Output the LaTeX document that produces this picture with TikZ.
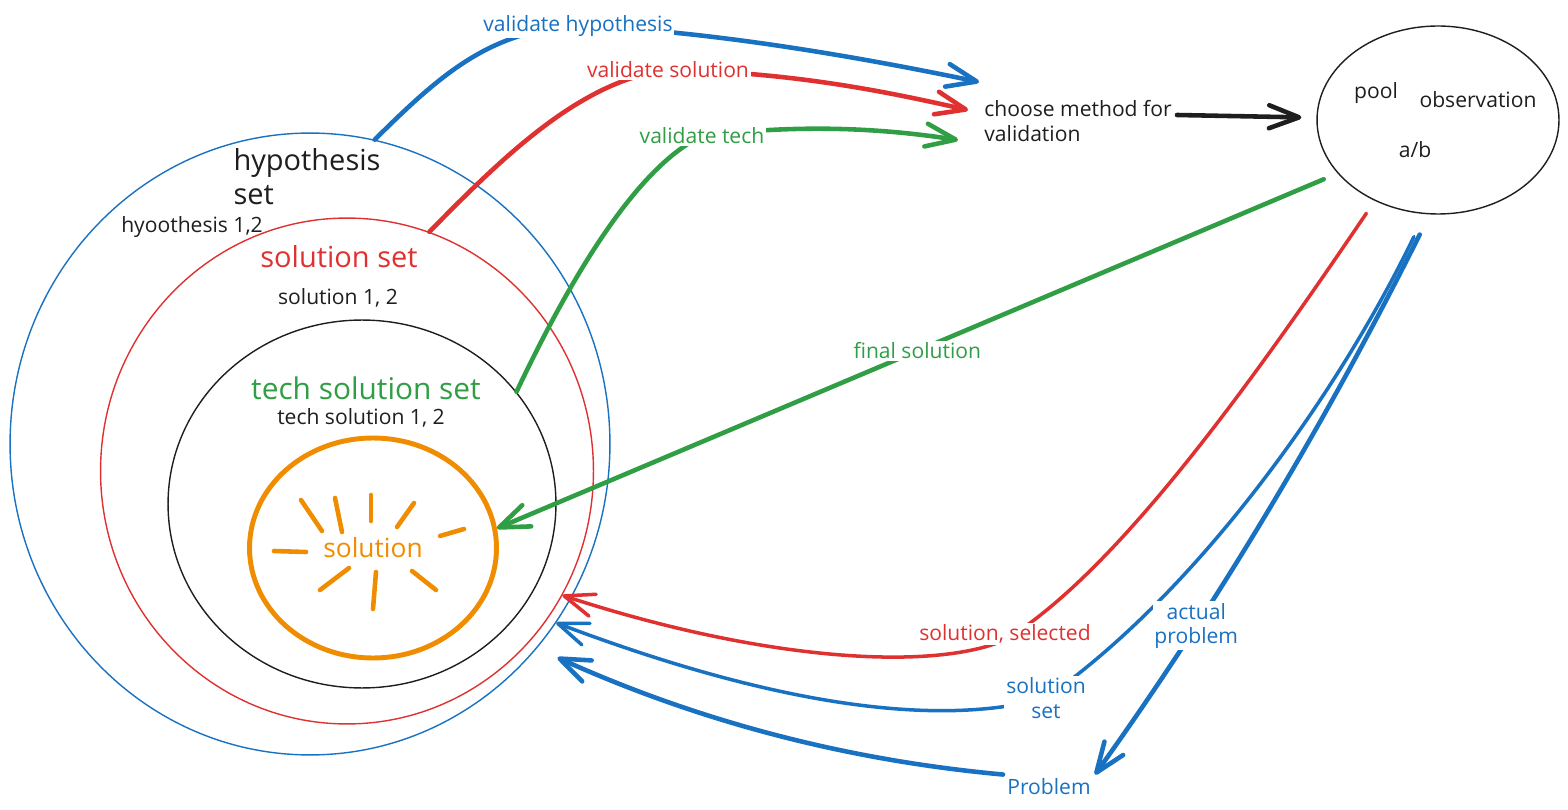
\documentclass[tikz,border=0pt]{standalone}
\usepackage{fontspec}
\setmainfont{Open Sans}
\usetikzlibrary{shapes.geometric, arrows.meta, positioning}
\definecolor{myblue}{HTML}{1971C2}
\definecolor{myred}{HTML}{E03131}
\definecolor{mygreen}{HTML}{2F9E44}
\definecolor{myorange}{HTML}{F08C00}
\definecolor{myblack}{HTML}{1E1E1E}
\tikzset{
	setnode/.style={
			shape=ellipse,
			draw=myblack,
			line width=0.8pt,
			inner sep=0pt
		},
	bestnode/.style={
			setnode,
			draw=myorange,
			line width=2.8pt,
			text=myorange,
			font=\fontsize{15}{18}\selectfont
		},
	handtext/.style={
			font=\fontsize{12}{14}\selectfont,
			text=myblack,
			inner sep=1pt,
			align=left
		},
	bigtext/.style={
			handtext,
			font=\fontsize{16.5}{19.5}\selectfont
		},
	linetext/.style={
			handtext,
			fill=white,
			align=center
		},
	handarrow/.style={
			line width=2.6pt,
			line cap=round,
			-{Straight Barb[length=6mm, width=4.6mm, round]}
		},
	thinarrow/.style={
			handarrow,
			line width=2pt
		},
	rayline/.style={
			draw=myorange,
			line width=2.6pt,
			line cap=round
		}
}

\begin{document}
\begin{tikzpicture}[x=0.02cm, y=-0.02cm]
	\useasboundingbox (0,0) rectangle (1568,810);

	% nested sets
	\node[setnode, draw=myblue, minimum width=12.0cm, minimum height=12.44cm] (hyp) at (310,444) {};
	\node[setnode, draw=myred, minimum width=9.86cm, minimum height=10.12cm] (sol) at (347,471) {};
	\node[setnode, minimum width=7.76cm, minimum height=7.36cm] (tech) at (362,504) {};
	\node[bestnode, minimum width=4.94cm, minimum height=4.4cm] (best) at (373,548) {solution};

	\foreach \xa/\ya/\xb/\yb in {301/500/322/531, 335/498/342/532, 371/495/371/521,
			414/503/397/527, 440/536/464/529, 274/551/306/552,
			349/568/320/590, 376/572/373/609, 412/571/436/590}
		\draw[rayline] (\xa,\ya) -- (\xb,\yb);

	\node[bigtext] (hyplabel) at (307,177) {hypothesis\\set};
	\node[handtext] (hypitems) at (192,227) {hyoothesis 1,2};
	\node[bigtext, text=myred] (sollabel) at (339,257) {solution set};
	\node[handtext] (solitems) at (338,298) {solution 1, 2};
	\node[bigtext, text=mygreen, font=\fontsize{17}{20}\selectfont] (techlabel) at (366,388) {tech solution set};
	\node[handtext] (techitems) at (361,418) {tech solution 1, 2};

	% validation side
	\node[handtext, inner sep=0.1cm] (method) at (1078,121) {choose method for\\validation};
	\node[setnode, minimum width=4.84cm, minimum height=3.76cm] (obs) at (1438,120) {};
	\node[handtext] (pool) at (1376,93) {pool};
	\node[handtext] (observation) at (1478,100) {observation};
	\node[handtext] (ab) at (1415,150) {a/b};
	\node[handtext, text=myblue, inner sep=0.08cm] (prob) at (1049,787) {Problem};

	% arrows into the method
	\draw[handarrow, myblue] (hyp.78) .. controls (440,75) and (490,30) .. (578,26)
		node[linetext, text=myblue] {validate hypothesis}
		.. controls (700,30) and (850,55) .. ([yshift=0.78cm]method.west);
	\draw[handarrow, myred] (sol.71) .. controls (500,160) and (580,80) .. (668,70)
		node[linetext, text=myred] {validate solution}
		.. controls (800,72) and (900,95) .. ([xshift=-0.22cm, yshift=0.22cm]method.west);
	\draw[handarrow, mygreen] (tech.36) .. controls (560,300) and (630,170) .. (702,136)
		node[linetext, text=mygreen] {validate tech}
		.. controls (800,124) and (880,128) .. ([xshift=-0.42cm, yshift=-0.38cm]method.west);
	\draw[handarrow, myblack, shorten >=0.3cm] ([yshift=0.12cm]method.east) -- (obs);

	% arrows back from the observation
	\draw[handarrow, mygreen, shorten <=0.3cm] (obs.208) -- (best.9)
		node[linetext, text=mygreen, pos=0.5] {final solution};
	\draw[thinarrow, myred, shorten <=0.3cm] (obs.232) .. controls (1260,370) and (1120,570) .. (1005,640)
		node[linetext, text=myred, yshift=0.12cm] {solution, selected}
		.. controls (930,672) and (760,660) .. (sol.-30);
	\draw[thinarrow, myblue, shorten <=0.5cm] (obs.262) .. controls (1340,390) and (1200,590) .. (1046,698)
		node[linetext, text=myblue] {solution\\set}
		.. controls (930,730) and (760,700) .. (hyp.-36);
	\draw[handarrow, myblue, shorten <=0.45cm] (obs.265) .. controls (1328,418) and (1220,600) .. (prob.north east)
		node[linetext, text=myblue, pos=0.72] {actual\\problem};
	\draw[handarrow, myblue, shorten >=0.45cm] (prob.north west) .. controls (900,765) and (740,740) .. (hyp.-42);

\end{tikzpicture}
\end{document}
